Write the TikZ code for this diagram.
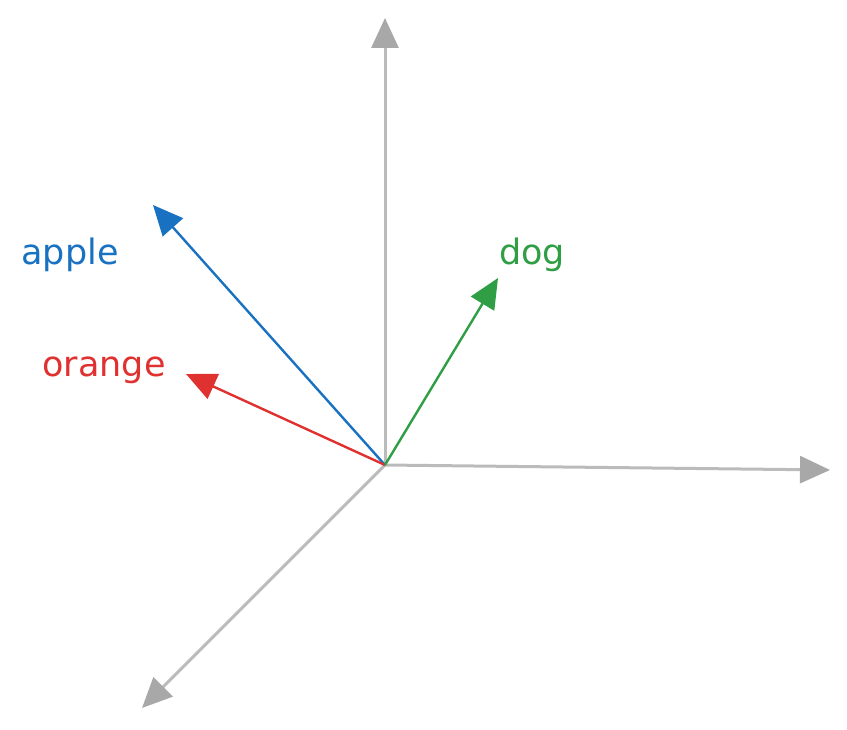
\documentclass[tikz,border=0pt]{standalone}
\usepackage{fontspec}
\setmainfont{DejaVu Sans}
\usetikzlibrary{arrows.meta}
\definecolor{axisgray}{HTML}{BBBBBB}
\definecolor{headgray}{HTML}{A8A8A8}
\definecolor{exblue}{HTML}{1971C2}
\definecolor{exred}{HTML}{E03131}
\definecolor{exgreen}{HTML}{2F9E44}
\tikzset{
  axisline/.style={draw=axisgray, line width=3pt, -{Triangle[length=30pt,width=27pt,color=headgray,fill=headgray]}},
  vecline/.style={line width=2.4pt, -{Triangle[length=30pt,width=27pt]}},
  lbl/.style={font=\fontsize{35}{35}\selectfont, inner sep=0pt}
}
\begin{document}
\begin{tikzpicture}[x=1pt,y=-1pt]
\useasboundingbox (0,0) rectangle (847,730);
\coordinate (o) at (385,465);
\coordinate (up) at (385,18);
\coordinate (right) at (830,470);
\coordinate (dl) at (142,708);
\coordinate (appletip) at (153,205);
\coordinate (orangetip) at (186,374);
\coordinate (dogtip) at (498,278);
\draw[axisline] (o) -- (up);
\draw[axisline] (o) -- (right);
\draw[axisline] (o) -- (dl);
\draw[vecline, exblue] (o) -- (appletip);
\draw[vecline, exred] (o) -- (orangetip);
\draw[vecline, exgreen] (o) -- (dogtip);
\node[lbl, text=exblue] (apple) at (70,255) {apple};
\node[lbl, text=exred] (orange) at (104,370) {orange};
\node[lbl, text=exgreen] (dog) at (532,255) {dog};
\end{tikzpicture}
\end{document}
